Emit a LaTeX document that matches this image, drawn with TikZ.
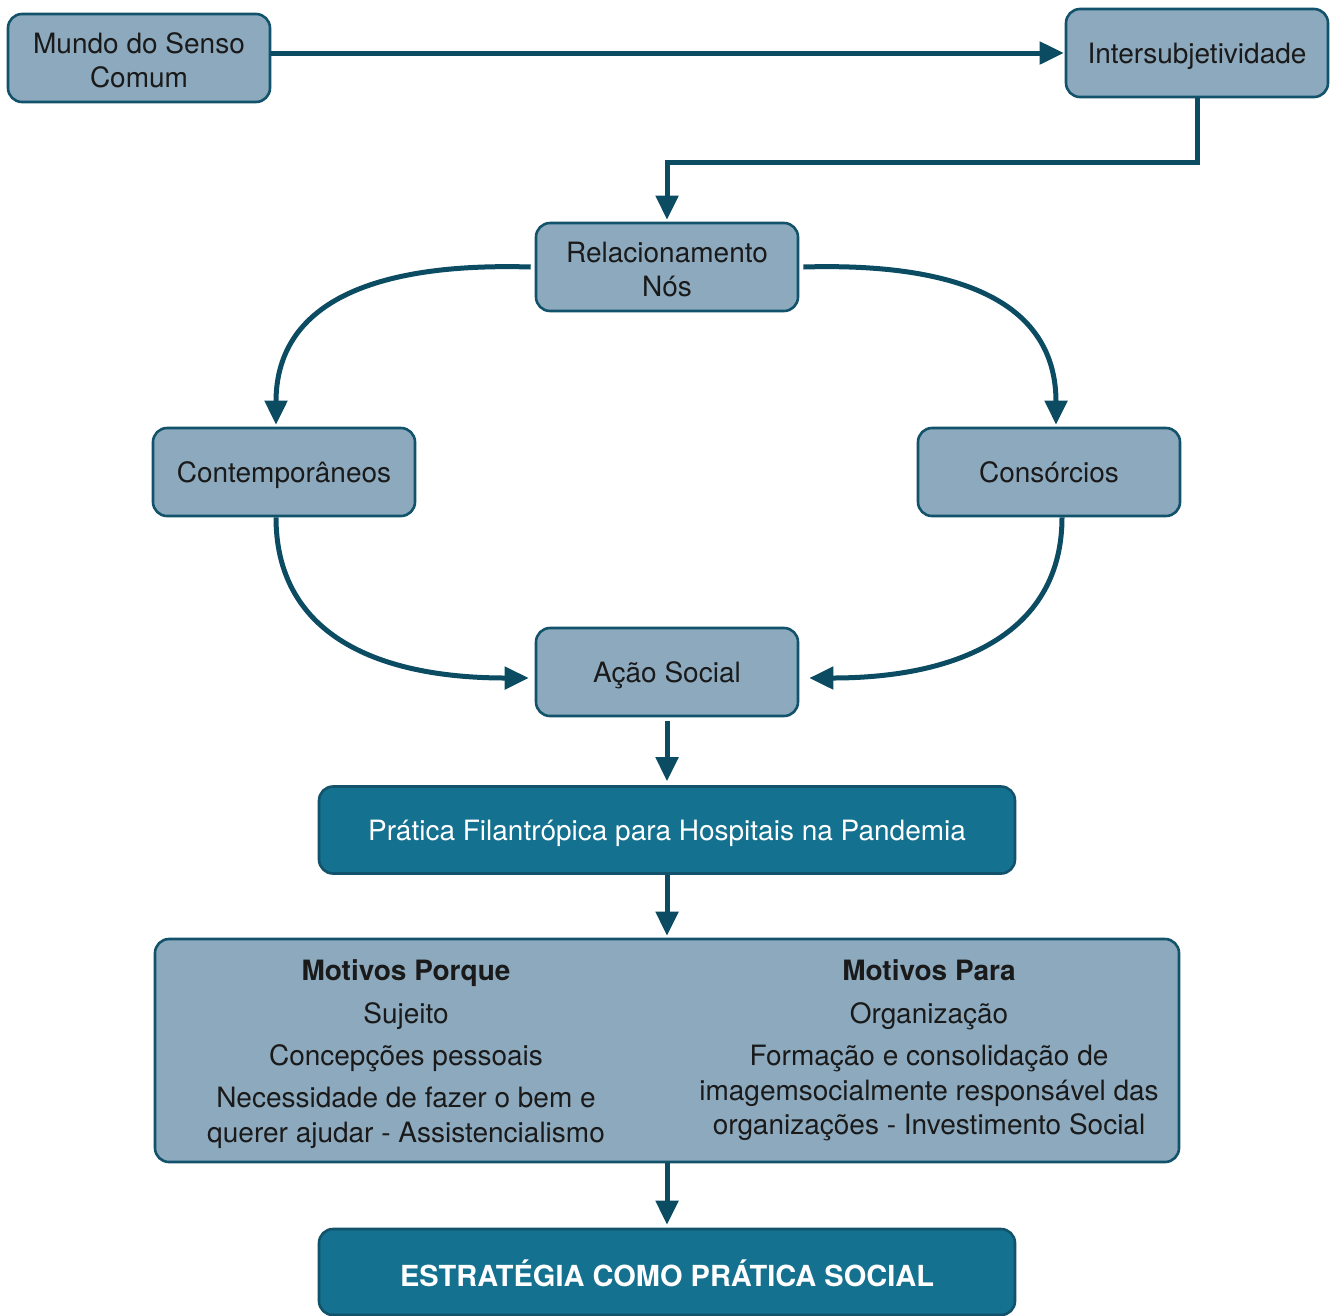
\documentclass[tikz,border=0pt]{standalone}
\usepackage{fontspec}
\setmainfont{TeX Gyre Heros}
\usetikzlibrary{arrows.meta}
\definecolor{lightfill}{HTML}{8CA9BE}
\definecolor{boxborder}{HTML}{12536B}
\definecolor{darkfill}{HTML}{14718F}
\definecolor{arrowcol}{HTML}{0B4C63}
\definecolor{txt}{HTML}{1A1A1A}
\tikzset{
  lightbox/.style={draw=boxborder, line width=2.6pt, fill=lightfill, rounded corners=14pt,
    minimum width=262pt, minimum height=88pt, inner sep=0pt, align=center,
    text=txt, font=\fontsize{28}{34}\selectfont},
  darkbox/.style={draw=boxborder, line width=2.6pt, fill=darkfill, rounded corners=14pt,
    minimum width=696pt, minimum height=87pt, inner sep=0pt, align=center,
    text=white, font=\fontsize{28}{34}\selectfont},
  oneline/.style={text height=20pt, text depth=0pt},
  twoline/.style={text height=58pt, text depth=0pt},
  conn/.style={draw=arrowcol, line width=5pt, -{Triangle[length=24pt,width=22pt]}},
  coltext/.style={anchor=base, inner sep=0pt, text=txt, font=\fontsize{28}{34}\selectfont},
}
\begin{document}
\begin{tikzpicture}[x=1pt,y=-1pt]
\useasboundingbox (0,0) rectangle (1337,1315);
\node[lightbox, twoline] (mundo) at (139,58) {Mundo do Senso\\Comum};
\node[lightbox, oneline] (inter) at (1197,53) {Intersubjetividade};
\node[lightbox, twoline] (rel) at (667,267) {Relacionamento\\Nós};
\node[lightbox, oneline] (cont) at (284,472) {Contemporâneos};
\node[lightbox, oneline] (cons) at (1049,472) {Consórcios};
\node[lightbox, oneline] (acao) at (667,672) {Ação Social};
\node[darkbox, oneline] (prat) at (667,830) {Prática Filantrópica para Hospitais na Pandemia};
\node[lightbox, minimum width=1024pt, minimum height=223pt] (motivos) at (667,1050.5) {};
\node[darkbox, text height=28pt, text depth=0pt, minimum height=86pt, font=\fontsize{29}{34}\selectfont\bfseries] (estr) at (667,1272) {ESTRATÉGIA COMO PRÁTICA SOCIAL};
% columns
\node[coltext, font=\fontsize{28}{34}\selectfont\bfseries] (lp1) at (406,980.5) {Motivos Porque};
\node[coltext] (lp2) at (406,1023.5) {Sujeito};
\node[coltext] (lp3) at (406,1065.5) {Concepções pessoais};
\node[coltext] (lp4) at (406,1107.5) {Necessidade de fazer o bem e};
\node[coltext] (lp5) at (406,1142.5) {querer ajudar - Assistencialismo};
\node[coltext, font=\fontsize{28}{34}\selectfont\bfseries] (rp1) at (929,980.5) {Motivos Para};
\node[coltext] (rp2) at (929,1023.5) {Organização};
\node[coltext] (rp3) at (929,1065.5) {Formação e consolidação de};
\node[coltext] (rp4) at (929,1100.5) {imagemsocialmente responsável das};
\node[coltext] (rp5) at (929,1134.5) {organizações - Investimento Social};
% connectors
\coordinate (bend) at (0,162);
\draw[conn] (mundo.east |- inter.west) -- ([xshift=-1pt]inter.west);
\draw[conn] (inter.south) -- (inter.south |- bend) -| ([yshift=2pt]rel.north);
\draw[conn] ([xshift=-4pt]rel.west) .. controls (360,262) and (276,310) .. ([xshift=-8pt,yshift=2pt]cont.north);
\draw[conn] ([xshift=4pt]rel.east) .. controls (974,262) and (1056,310) .. ([xshift=7pt,yshift=2pt]cons.north);
\draw[conn] ([xshift=-8pt]cont.south) .. controls (276,630) and (370,678) .. ([xshift=-6pt,yshift=-6pt]acao.west);
\draw[conn] ([xshift=13pt]cons.south) .. controls (1062,630) and (964,678) .. ([xshift=10pt,yshift=-6pt]acao.east);
\draw[conn] ([yshift=-4pt]acao.south) -- ([yshift=4pt]prat.north);
\draw[conn] (prat.south) -- ([yshift=2pt]motivos.north);
\draw[conn] (motivos.south) -- ([yshift=3pt]estr.north);
\end{tikzpicture}
\end{document}
